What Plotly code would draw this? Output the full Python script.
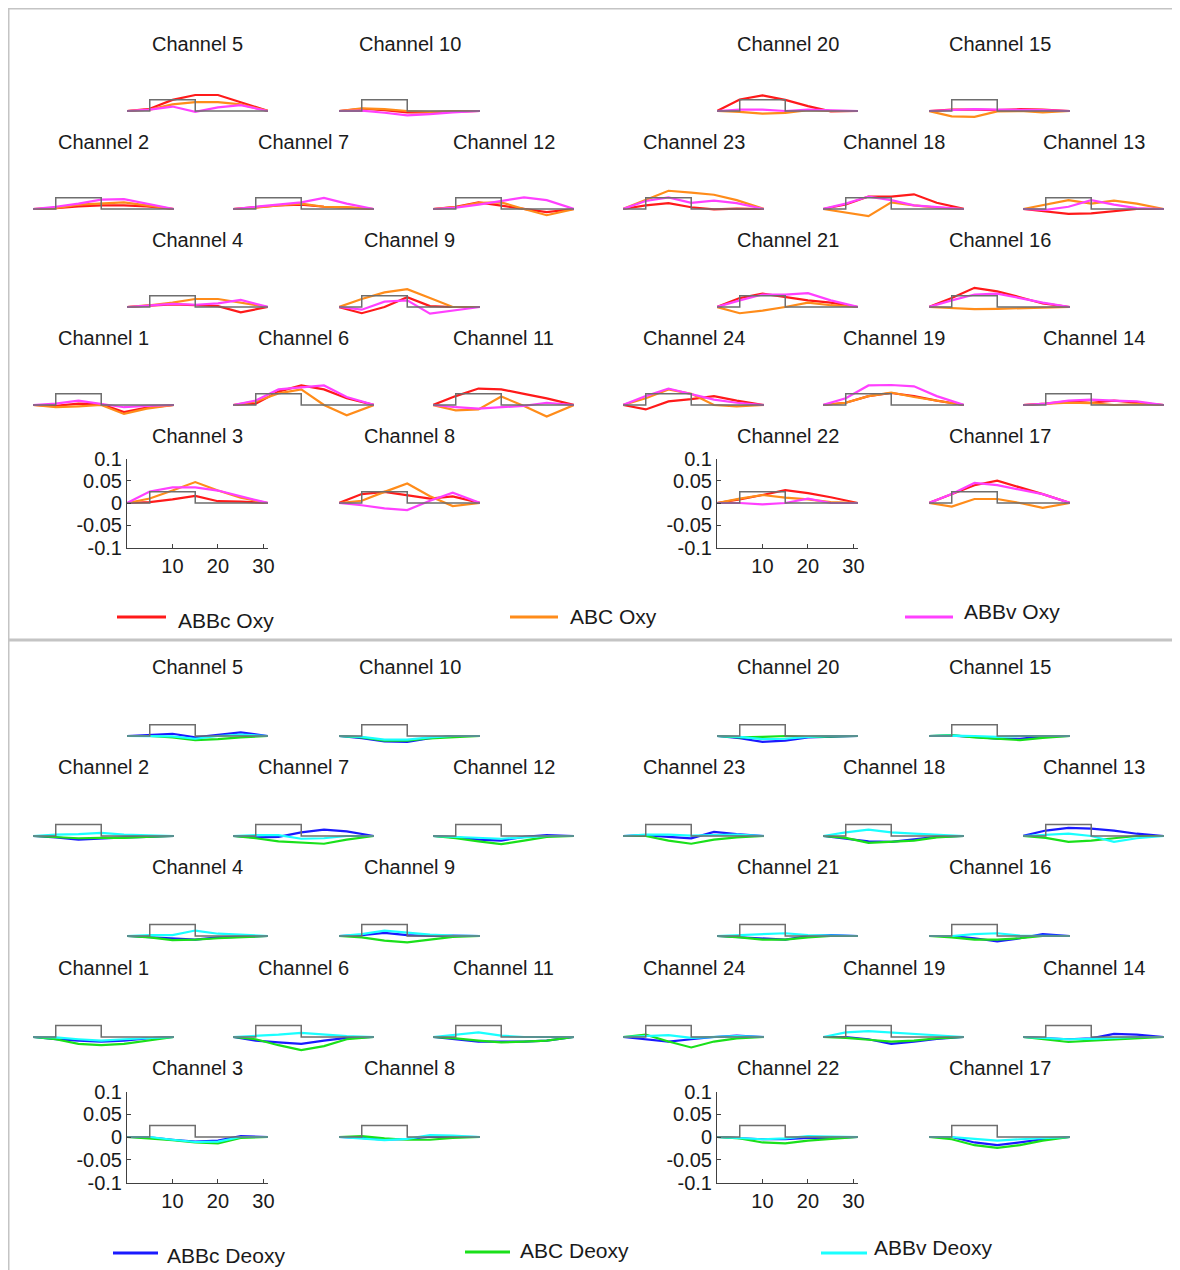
import plotly.graph_objects as go

# ---------------- data ----------------
time_s = [0, 5, 10, 15, 20, 25, 31]
block_x = [0, 5, 5, 15, 15, 31]
block_y = [0, 0, 0.025, 0.025, 0, 0]

ABBc_oxy = {
    1: [0, -0.002, 0.003, 0.002, -0.016, -0.006, 0],
    2: [0, 0.002, 0.006, 0.008, 0.008, 0.006, 0],
    3: [0, 0.002, 0.008, 0.016, 0.004, 0.003, 0],
    4: [0, 0.003, 0.006, 0.004, 0.002, -0.012, 0],
    5: [0, 0.005, 0.025, 0.036, 0.036, 0.02, 0],
    6: [0, 0.003, 0.03, 0.044, 0.035, 0.015, 0],
    7: [0, 0.004, 0.008, 0.01, 0.005, 0.003, 0],
    8: [0, 0.02, 0.025, 0.018, 0.01, 0.015, 0],
    9: [0, -0.014, 0.0, 0.022, 0.002, 0.0, 0],
    10: [0, 0.005, 0.002, -0.003, -0.003, -0.002, 0],
    11: [0, 0.02, 0.037, 0.035, 0.025, 0.015, 0],
    12: [0, 0.005, 0.015, 0.008, 0.0, -0.007, 0],
    13: [0, -0.005, -0.011, -0.01, -0.005, 0.0, 0],
    14: [0, 0.003, 0.008, 0.005, 0.01, 0.005, 0],
    15: [0, 0.003, 0.003, 0.002, 0.004, 0.003, 0],
    16: [0, 0.02, 0.043, 0.035, 0.022, 0.008, 0],
    17: [0, 0.02, 0.04, 0.05, 0.035, 0.02, 0],
    18: [0, 0.01, 0.028, 0.028, 0.033, 0.014, 0],
    19: [0, 0.005, 0.02, 0.027, 0.02, 0.01, 0],
    20: [0, 0.026, 0.035, 0.025, 0.011, -0.001, 0],
    21: [0, 0.02, 0.03, 0.022, 0.015, 0.01, 0],
    22: [0, 0.008, 0.018, 0.029, 0.022, 0.013, 0],
    23: [0, 0.008, 0.013, 0.004, -0.001, 0.001, 0],
    24: [0, -0.01, 0.008, 0.013, 0.02, 0.01, 0],
}
ABC_oxy = {
    1: [0, -0.005, -0.003, 0.0, -0.02, -0.008, 0],
    2: [0, 0.002, 0.01, 0.013, 0.015, 0.008, 0],
    3: [0, 0.01, 0.028, 0.047, 0.028, 0.012, 0],
    4: [0, 0.004, 0.01, 0.018, 0.018, 0.01, 0],
    5: [0, 0.003, 0.015, 0.02, 0.02, 0.015, 0],
    6: [0, 0.008, 0.026, 0.035, 0.0, -0.023, 0],
    7: [0, 0.003, 0.008, 0.012, 0.005, 0.004, 0],
    8: [0, 0.005, 0.025, 0.044, 0.015, -0.007, 0],
    9: [0, 0.018, 0.033, 0.04, 0.02, 0.0, 0],
    10: [0, 0.006, 0.004, 0.0, -0.002, 0.0, 0],
    11: [0, -0.012, -0.01, 0.019, -0.002, -0.026, 0],
    12: [0, 0.004, 0.014, 0.015, 0.0, -0.014, 0],
    13: [0, 0.01, 0.02, 0.012, 0.019, 0.012, 0],
    14: [0, 0.002, 0.005, 0.004, 0.0, 0.002, 0],
    15: [0, -0.012, -0.013, -0.001, 0.0, -0.003, 0],
    16: [0, -0.003, -0.005, -0.004, -0.003, -0.002, 0],
    17: [0, -0.008, 0.009, 0.009, 0.0, -0.011, 0],
    18: [0, -0.008, -0.016, 0.015, 0.008, 0.003, 0],
    19: [0, 0.005, 0.02, 0.028, 0.018, 0.01, 0],
    20: [0, -0.002, -0.006, -0.004, 0.002, 0.0, 0],
    21: [0, -0.014, -0.008, 0.0, 0.01, 0.004, 0],
    22: [0, 0.01, 0.018, 0.012, 0.008, 0.002, 0],
    23: [0, 0.02, 0.041, 0.037, 0.032, 0.02, 0],
    24: [0, 0.015, 0.035, 0.025, 0.0, -0.003, 0],
}
ABBv_oxy = {
    1: [0, 0.003, 0.01, 0.003, -0.005, -0.002, 0],
    2: [0, 0.005, 0.012, 0.021, 0.022, 0.012, 0],
    3: [0, 0.026, 0.035, 0.035, 0.028, 0.015, 0],
    4: [0, 0.004, 0.007, 0.005, 0.008, 0.016, 0],
    5: [0, 0.003, 0.01, -0.002, 0.008, 0.013, 0],
    6: [0, 0.01, 0.035, 0.04, 0.044, 0.018, 0],
    7: [0, 0.005, 0.01, 0.015, 0.025, 0.012, 0],
    8: [0, -0.005, -0.012, -0.016, 0.005, 0.023, 0],
    9: [0, -0.006, 0.012, 0.015, -0.015, -0.008, 0],
    10: [0, 0.001, -0.004, -0.01, -0.007, -0.003, 0],
    11: [0, -0.005, -0.008, -0.005, -0.002, 0.005, 0],
    12: [0, 0.003, 0.01, 0.018, 0.026, 0.02, 0],
    13: [0, -0.002, 0.005, 0.02, 0.01, 0.002, 0],
    14: [0, 0.003, 0.01, 0.012, 0.01, 0.008, 0],
    15: [0, 0.002, 0.004, 0.003, 0.003, 0.002, 0],
    16: [0, 0.015, 0.028, 0.03, 0.02, 0.01, 0],
    17: [0, 0.02, 0.045, 0.04, 0.03, 0.02, 0],
    18: [0, 0.012, 0.028, 0.02, 0.008, 0.005, 0],
    19: [0, 0.015, 0.044, 0.045, 0.042, 0.02, 0],
    20: [0, 0.003, 0.003, 0.0, 0.003, 0.002, 0],
    21: [0, 0.015, 0.028, 0.028, 0.031, 0.015, 0],
    22: [0, 0.0, -0.003, 0.0, 0.01, 0.0, 0],
    23: [0, 0.018, 0.026, 0.014, 0.019, 0.013, 0],
    24: [0, 0.02, 0.037, 0.025, 0.012, 0.005, 0],
}
ABBc_deoxy = {
    1: [0, -0.005, -0.008, -0.01, -0.008, -0.003, 0],
    2: [0, -0.003, -0.008, -0.005, -0.003, -0.002, 0],
    3: [0, -0.001, -0.006, -0.01, -0.008, 0.002, 0],
    4: [0, -0.003, -0.005, -0.008, -0.003, -0.002, 0],
    5: [0, 0.003, 0.005, -0.003, 0.002, 0.008, 0],
    6: [0, -0.008, -0.012, -0.015, -0.008, -0.002, 0],
    7: [0, -0.003, -0.002, 0.008, 0.014, 0.01, 0],
    8: [0, -0.002, -0.006, -0.004, 0.001, 0.0, 0],
    9: [0, 0.002, 0.007, 0.002, 0.0, 0.001, 0],
    10: [0, -0.005, -0.012, -0.013, -0.005, 0.0, 0],
    11: [0, -0.005, -0.01, -0.01, -0.01, -0.008, 0],
    12: [0, -0.003, -0.008, -0.01, -0.002, 0.002, 0],
    13: [0, 0.012, 0.018, 0.016, 0.012, 0.005, 0],
    14: [0, -0.003, -0.005, -0.003, 0.007, 0.005, 0],
    15: [0, 0.001, -0.002, -0.006, -0.006, -0.001, 0],
    16: [0, 0.0, -0.005, -0.012, -0.005, 0.004, 0],
    17: [0, 0.0, -0.012, -0.018, -0.012, -0.005, 0],
    18: [0, -0.006, -0.012, -0.013, -0.008, -0.002, 0],
    19: [0, 0.0, -0.005, -0.015, -0.01, -0.004, 0],
    20: [0, -0.005, -0.013, -0.01, -0.003, -0.002, 0],
    21: [0, -0.003, -0.005, -0.008, 0.0, 0.002, 0],
    22: [0, -0.003, -0.005, -0.005, -0.002, -0.002, 0],
    23: [0, 0.002, -0.002, -0.005, 0.009, 0.004, 0],
    24: [0, -0.005, -0.01, -0.005, 0.0, 0.003, 0],
}
ABC_deoxy = {
    1: [0, -0.005, -0.015, -0.018, -0.015, -0.008, 0],
    2: [0, -0.003, -0.005, -0.004, -0.004, -0.002, 0],
    3: [0, -0.003, -0.007, -0.012, -0.014, -0.002, 0],
    4: [0, -0.003, -0.009, -0.008, -0.005, -0.003, 0],
    5: [0, 0.0, -0.003, -0.009, -0.007, -0.003, 0],
    6: [0, -0.005, -0.018, -0.029, -0.02, -0.005, 0],
    7: [0, -0.005, -0.012, -0.015, -0.017, -0.008, 0],
    8: [0, 0.002, -0.003, -0.006, -0.006, -0.002, 0],
    9: [0, -0.003, -0.01, -0.014, -0.008, -0.002, 0],
    10: [0, -0.003, -0.01, -0.01, -0.005, -0.002, 0],
    11: [0, -0.003, -0.008, -0.012, -0.01, -0.008, 0],
    12: [0, -0.005, -0.012, -0.018, -0.01, -0.002, 0],
    13: [0, -0.004, -0.013, -0.01, -0.005, 0.0, 0],
    14: [0, -0.005, -0.011, -0.008, -0.005, -0.002, 0],
    15: [0, 0.002, -0.003, -0.006, -0.009, -0.004, 0],
    16: [0, -0.003, -0.008, -0.008, -0.005, 0.0, 0],
    17: [0, -0.005, -0.018, -0.024, -0.018, -0.008, 0],
    18: [0, -0.004, -0.015, -0.012, -0.01, -0.003, 0],
    19: [0, -0.002, -0.006, -0.01, -0.008, -0.003, 0],
    20: [0, -0.003, -0.002, 0.0, -0.002, -0.001, 0],
    21: [0, -0.003, -0.008, -0.008, -0.003, 0.0, 0],
    22: [0, -0.003, -0.012, -0.014, -0.008, -0.005, 0],
    23: [0, 0.0, -0.01, -0.017, -0.008, -0.003, 0],
    24: [0, 0.005, -0.01, -0.023, -0.01, -0.003, 0],
}
ABBv_deoxy = {
    1: [0, -0.001, -0.005, -0.008, -0.005, -0.002, 0],
    2: [0, 0.003, 0.004, 0.007, 0.003, 0.001, 0],
    3: [0, 0.0, -0.006, -0.011, -0.01, 0.0, 0],
    4: [0, 0.002, 0.002, 0.012, 0.005, 0.002, 0],
    5: [0, 0.0, -0.001, -0.006, 0.0, 0.003, 0],
    6: [0, 0.002, 0.005, 0.009, 0.005, 0.002, 0],
    7: [0, 0.002, 0.002, -0.006, -0.005, 0.0, 0],
    8: [0, -0.003, -0.007, -0.004, 0.004, 0.003, 0],
    9: [0, 0.004, 0.012, 0.008, 0.003, 0.001, 0],
    10: [0, -0.002, -0.008, -0.008, -0.003, 0.0, 0],
    11: [0, 0.005, 0.01, 0.003, 0.0, 0.0, 0],
    12: [0, -0.002, -0.005, -0.006, -0.003, 0.0, 0],
    13: [0, 0.002, 0.005, 0.0, -0.013, -0.005, 0],
    14: [0, -0.002, -0.005, -0.004, -0.002, 0.0, 0],
    15: [0, 0.001, 0.0, -0.002, 0.0, 0.0, 0],
    16: [0, 0.0, 0.004, 0.006, 0.001, 0.0, 0],
    17: [0, 0.0, -0.004, -0.008, -0.005, -0.002, 0],
    18: [0, 0.008, 0.014, 0.008, 0.005, 0.003, 0],
    19: [0, 0.01, 0.013, 0.01, 0.008, 0.005, 0],
    20: [0, -0.002, -0.007, -0.006, -0.002, 0.0, 0],
    21: [0, 0.002, 0.005, 0.006, 0.002, 0.001, 0],
    22: [0, -0.002, -0.005, -0.003, 0.002, 0.001, 0],
    23: [0, 0.003, 0.003, 0.001, 0.002, 0.003, 0],
    24: [0, 0.002, 0.004, -0.002, 0.0, 0.002, 0],
}

y_tickvals = [-0.1, -0.05, 0, 0.05, 0.1]
y_ticktext = ["-0.1", "-0.05", "0", "0.05", "0.1"]
x_tickvals = [10, 20, 30]
x_ticktext = ["10", "20", "30"]

# ---------------- layout (positions in screen pixels) ----------------
OFF = 8                      # page body margin added by the browser
W, H = 1180 - OFF, 1270 - OFF
FONT = "Liberation Sans, Arial, sans-serif"
col_left_px = [33, 127, 233, 339, 433, 623, 717, 823, 929, 1023]
plot_w = 141
# channel -> (column, row)
channel_pos = {
    5: (1, 0), 10: (3, 0), 20: (6, 0), 15: (8, 0),
    2: (0, 1), 7: (2, 1), 12: (4, 1), 23: (5, 1), 18: (7, 1), 13: (9, 1),
    4: (1, 2), 9: (3, 2), 21: (6, 2), 16: (8, 2),
    1: (0, 3), 6: (2, 3), 11: (4, 3), 24: (5, 3), 19: (7, 3), 14: (9, 3),
    3: (1, 4), 8: (3, 4), 22: (6, 4), 17: (8, 4),
}
labelled = {3, 22}

panels = [
    dict(series=[("ABBc Oxy", ABBc_oxy, "#ff1a1a"), ("ABC Oxy", ABC_oxy, "#ff8c1a"),
                 ("ABBv Oxy", ABBv_oxy, "#ff40ff")],
         title_y=[44, 142, 240, 338, 436], zero_off=67, h=89,
         legend=[(117, 166, 617, 176, 620), (510, 558, 617, 568, 616), (905, 953, 617, 962, 612)]),
    dict(series=[("ABBc Deoxy", ABBc_deoxy, "#1a1aff"), ("ABC Deoxy", ABC_deoxy, "#1ae01a"),
                 ("ABBv Deoxy", ABBv_deoxy, "#1affff")],
         title_y=[667, 767, 867, 968, 1068], zero_off=69, h=91,
         legend=[(113, 158, 1253, 165, 1255), (465, 510, 1252, 518, 1250), (821, 867, 1253, 872, 1247)]),
]


def px_x(p):
    return (p - OFF) / W


def px_y(p):
    return 1 - (p - OFF) / H


fig = go.Figure()
layout_axes = {}
annotations = []
shapes = []
k = 0
for panel in panels:
    for ch, (col, row) in channel_pos.items():
        k += 1
        xa = "x" if k == 1 else f"x{k}"
        ya = "y" if k == 1 else f"y{k}"
        left = col_left_px[col]
        zero = panel["title_y"][row] + panel["zero_off"]
        h = panel["h"]
        top, bot = zero - h / 2, zero + h / 2
        show = ch in labelled
        xkey = "xaxis" if k == 1 else f"xaxis{k}"
        ykey = "yaxis" if k == 1 else f"yaxis{k}"
        common = dict(showgrid=False, zeroline=False, showline=show, linecolor="#404040",
                      linewidth=1, ticks="inside" if show else "", ticklen=4,
                      tickcolor="#404040", showticklabels=show, automargin=False,
                      tickfont=dict(family=FONT, size=20, color="#1a1a1a"), fixedrange=True)
        layout_axes[xkey] = dict(domain=[px_x(left), px_x(left + plot_w)], anchor=ya,
                                 range=[0, 31], tickvals=x_tickvals, ticktext=x_ticktext, **common)
        layout_axes[ykey] = dict(domain=[px_y(bot), px_y(top)], anchor=xa,
                                 range=[-0.1, 0.1], tickvals=y_tickvals, ticktext=y_ticktext, **common)
        for name, data, color in panel["series"]:
            fig.add_trace(go.Scatter(x=time_s, y=data[ch], mode="lines", xaxis=xa, yaxis=ya,
                                     line=dict(color=color, width=2.2), showlegend=False,
                                     hoverinfo="skip"))
        fig.add_trace(go.Scatter(x=block_x, y=block_y, mode="lines", xaxis=xa, yaxis=ya,
                                 line=dict(color="#6e6e6e", width=1.5), showlegend=False,
                                 hoverinfo="skip"))
        annotations.append(dict(text=f"Channel {ch}", xref="paper", yref="paper",
                                x=px_x(left + plot_w / 2), y=px_y(panel["title_y"][row]),
                                xanchor="center", yanchor="middle", showarrow=False,
                                font=dict(family=FONT, size=20, color="#1a1a1a")))
    # legend
    for (name, data, color), (x0, x1, ly, tx, ty) in zip(panel["series"], panel["legend"]):
        shapes.append(dict(type="line", xref="paper", yref="paper", x0=px_x(x0), x1=px_x(x1),
                           y0=px_y(ly), y1=px_y(ly), line=dict(color=color, width=3)))
        annotations.append(dict(text=name, xref="paper", yref="paper", x=px_x(tx), y=px_y(ty),
                                xanchor="left", yanchor="middle", showarrow=False,
                                font=dict(family=FONT, size=21, color="#1a1a1a")))

# figure borders (light gray frames)
border = dict(color="#c4c4c4", width=3)
shapes.append(dict(type="line", xref="paper", yref="paper", x0=px_x(7), x1=1,
                   y0=px_y(8), y1=px_y(8), line=border))
shapes.append(dict(type="line", xref="paper", yref="paper", x0=px_x(8), x1=px_x(8),
                   y0=0, y1=px_y(8), line=border))
shapes.append(dict(type="line", xref="paper", yref="paper", x0=px_x(7), x1=1,
                   y0=px_y(640), y1=px_y(640), line=border))

fig.update_layout(
    width=W, height=H, margin=dict(l=0, r=0, t=0, b=0, autoexpand=False),
    paper_bgcolor="white", plot_bgcolor="rgba(0,0,0,0)",
    showlegend=False, annotations=annotations, shapes=shapes, **layout_axes,
)
fig.write_html("out.html")
